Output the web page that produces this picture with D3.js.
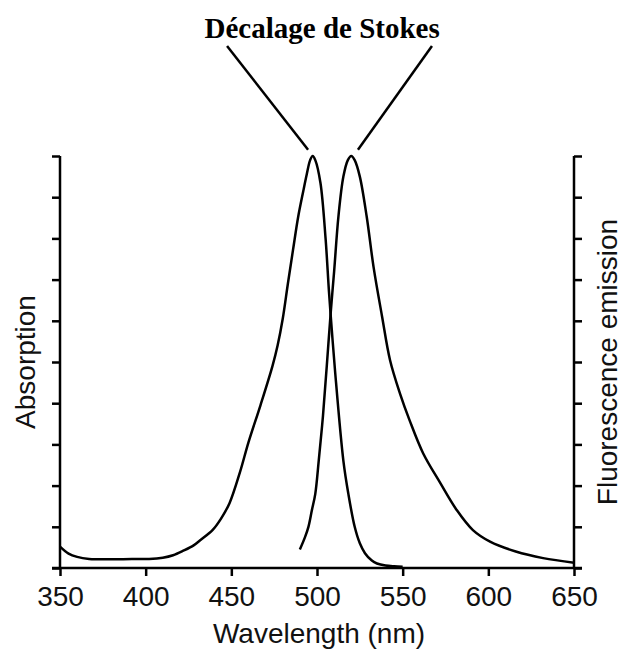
<!DOCTYPE html>
<html>
<head>
<meta charset="utf-8">
<script src="https://cdn.jsdelivr.net/npm/d3@7"></script>
<style>
  body { margin: 0; background: #fff; }
</style>
</head>
<body>
<div id="chart"></div>
<script>
// Absorption spectrum (normalised)
const absWavelength = [350, 355, 360, 367, 380, 392, 402, 410, 416, 422, 428, 432, 439, 444, 449, 455, 460, 467, 474, 477, 480, 483, 486, 489, 492, 494, 496, 497.5, 499, 502, 505, 507, 508.6, 510.5, 515.4, 518.3, 522, 525, 528, 532, 535, 540, 545, 550];
const absValue = [0.052, 0.035, 0.027, 0.022, 0.021, 0.022, 0.022, 0.025, 0.031, 0.042, 0.055, 0.068, 0.092, 0.12, 0.158, 0.232, 0.305, 0.395, 0.49, 0.54, 0.605, 0.69, 0.772, 0.852, 0.915, 0.955, 0.99, 1.0, 0.99, 0.935, 0.80, 0.67, 0.58, 0.48, 0.26, 0.18, 0.10, 0.06, 0.036, 0.018, 0.011, 0.006, 0.004, 0.003];

// Fluorescence emission spectrum (normalised)
const emWavelength = [490, 493, 495, 497, 499, 501, 503.5, 505.7, 508, 510, 512.5, 515.4, 518, 520, 522, 525, 529, 533, 538, 542.6, 548.4, 554, 562, 572, 581.5, 591, 601, 616, 632, 650];
const emValue = [0.045, 0.075, 0.10, 0.14, 0.18, 0.26, 0.37, 0.49, 0.62, 0.72, 0.853, 0.95, 0.99, 1.0, 0.99, 0.95, 0.853, 0.731, 0.61, 0.505, 0.424, 0.359, 0.278, 0.206, 0.141, 0.092, 0.064, 0.040, 0.024, 0.013];

const xTicks = [350, 400, 450, 500, 550, 600, 650];
const yTicks = [0, 0.1, 0.2, 0.3, 0.4, 0.5, 0.6, 0.7, 0.8, 0.9, 1.0];

const title = 'Décalage de Stokes';
const xLabel = 'Wavelength (nm)';
const leftLabel = 'Absorption';
const rightLabel = 'Fluorescence emission';

// Annotation lines from the title to the two peaks (wavelength, value)
const pointerStart = [[447.5, 1.267], [567.1, 1.267]];
const pointerEnd = [[494.8, 1.015], [523.9, 1.015]];

// Set up dimensions
const W = 622, H = 651;
const margin = { top: 156, right: 48, bottom: 83, left: 60 };
const width = W - margin.left - margin.right;
const height = H - margin.top - margin.bottom;

const svg = d3.select('#chart')
    .append('svg')
    .attr('width', W)
    .attr('height', H)
    .append('g')
    .attr('transform', `translate(${margin.left},${margin.top})`);

// Scales
const xScale = d3.scaleLinear().domain([350, 650]).range([0, width]);
const yScale = d3.scaleLinear().domain([0, 1]).range([height, 0]);

const axisFont = '"Liberation Sans", Arial, Helvetica, sans-serif';
const strokeW = 2.5;

// Bottom axis
const xAxis = svg.append('g')
    .attr('transform', `translate(0,${height})`)
    .call(d3.axisBottom(xScale).tickValues(xTicks).tickSize(8).tickSizeOuter(0).tickPadding(10));
xAxis.select('.domain').remove();
xAxis.append('line')
    .attr('x1', xScale(350) - 8)
    .attr('x2', xScale(650) + 8)
    .attr('stroke', '#000')
    .attr('stroke-width', strokeW);

// Left axis
const yAxisL = svg.append('g')
    .call(d3.axisLeft(yScale).tickValues(yTicks).tickSize(8).tickSizeOuter(0).tickFormat(''));
yAxisL.select('.domain').remove();
yAxisL.append('line')
    .attr('y1', yScale(0))
    .attr('y2', yScale(1))
    .attr('stroke', '#000')
    .attr('stroke-width', strokeW);

// Right axis
const yAxisR = svg.append('g')
    .attr('transform', `translate(${width},0)`)
    .call(d3.axisRight(yScale).tickValues(yTicks).tickSize(8).tickSizeOuter(0).tickFormat(''));
yAxisR.select('.domain').remove();
yAxisR.append('line')
    .attr('y1', yScale(0))
    .attr('y2', yScale(1))
    .attr('stroke', '#000')
    .attr('stroke-width', strokeW);

svg.selectAll('.tick line')
    .attr('stroke', '#000')
    .attr('stroke-width', strokeW);
svg.selectAll('.tick text')
    .attr('font-family', axisFont)
    .attr('font-size', '28px')
    .attr('fill', '#111');

// Axis titles
svg.append('text')
    .attr('x', width / 2 + 2)
    .attr('y', height + 75)
    .attr('text-anchor', 'middle')
    .attr('font-family', axisFont)
    .attr('font-size', '28px')
    .attr('fill', '#111')
    .text(xLabel);

svg.append('text')
    .attr('transform', `translate(${35 - margin.left},${height / 2}) rotate(-90)`)
    .attr('text-anchor', 'middle')
    .attr('font-family', axisFont)
    .attr('font-size', '28px')
    .attr('fill', '#111')
    .text(leftLabel);

svg.append('text')
    .attr('transform', `translate(${width + 43},${height / 2}) rotate(-90)`)
    .attr('text-anchor', 'middle')
    .attr('font-family', axisFont)
    .attr('font-size', '28px')
    .attr('fill', '#111')
    .text(rightLabel);

// Spectra
const line = d3.line()
    .x(d => xScale(d[0]))
    .y(d => yScale(d[1]))
    .curve(d3.curveCatmullRom.alpha(0.5));

const absData = absWavelength.map((w, i) => [w, absValue[i]]);
const emData = emWavelength.map((w, i) => [w, emValue[i]]);

[absData, emData].forEach(data => {
    svg.append('path')
        .datum(data)
        .attr('d', line)
        .attr('fill', 'none')
        .attr('stroke', '#000')
        .attr('stroke-width', strokeW)
        .attr('stroke-linejoin', 'round');
});

// Title and pointer lines
svg.append('text')
    .attr('x', xScale(503))
    .attr('y', 38 - margin.top)
    .attr('text-anchor', 'middle')
    .attr('font-family', '"Liberation Serif", "Times New Roman", serif')
    .attr('font-weight', 'bold')
    .attr('font-size', '29px')
    .attr('fill', '#000')
    .text(title);

pointerStart.forEach((p, i) => {
    svg.append('line')
        .attr('x1', xScale(p[0]))
        .attr('y1', yScale(p[1]))
        .attr('x2', xScale(pointerEnd[i][0]))
        .attr('y2', yScale(pointerEnd[i][1]))
        .attr('stroke', '#000')
        .attr('stroke-width', strokeW);
});
</script>
</body>
</html>
